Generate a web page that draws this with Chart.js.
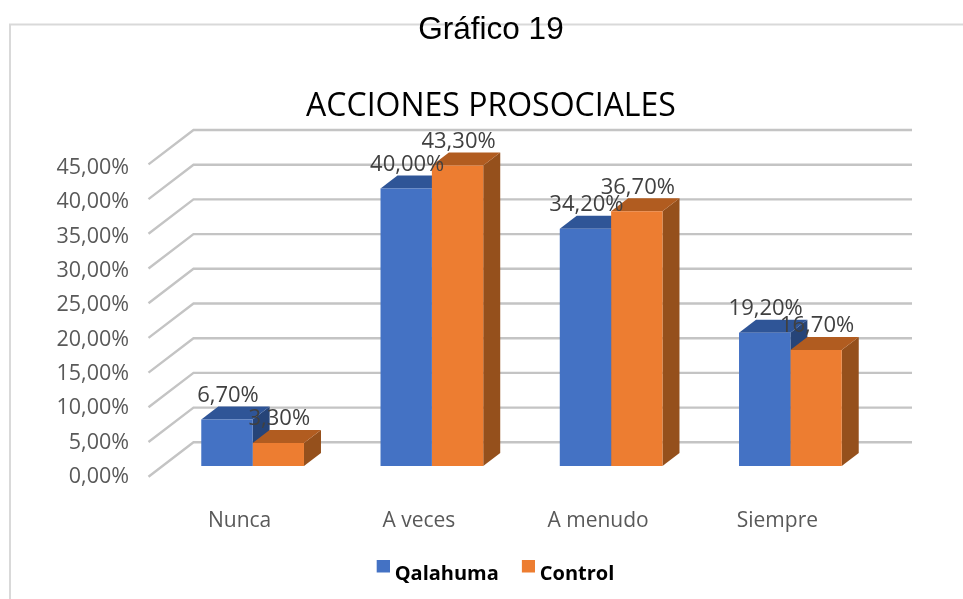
<!DOCTYPE html>
<html><head><meta charset="utf-8">
<style>html,body{margin:0;padding:0;background:#fff}#w{width:963px;height:599px}</style>
<script src="https://cdn.jsdelivr.net/npm/chart.js@4"></script>
</head><body><div id="w"><canvas id="c" width="963" height="599"></canvas></div>
<script>
const categories = ["Nunca","A veces","A menudo","Siempre"];
const qalahuma = [6.7,40.0,34.2,19.2];
const control = [3.3,43.3,36.7,16.7];
const seriesNames = ["Qalahuma","Control"];
const seriesColors = ["#4472c4","#ed7d31"];
const titleText = "Gráfico 19";
const subtitleText = "ACCIONES PROSOCIALES";
const fmt = v => v.toFixed(2).replace(".",",")+"%";

const DX=17, DY=13, WALL_DX=45, WALL_DY=34.4, WALL_RIGHT=912;
const faces=[{top:"#2f5597",side:"#264478"},{top:"#b15c20",side:"#95501c"}];
const FONT='"Open Sans"';

function poly(ctx,pts,fill){ctx.beginPath();pts.forEach((p,i)=>i?ctx.lineTo(p[0],p[1]):ctx.moveTo(p[0],p[1]));ctx.closePath();ctx.fillStyle=fill;ctx.fill();}
function legendMark(color){
 const m=document.createElement("canvas");m.width=27;m.height=29;
 const g=m.getContext("2d");g.fillStyle=color;g.fillRect(14,0,13,13);return m;
}

const threeD={id:"threeD",
 beforeDraw(chart){const c=chart.ctx;c.save();c.strokeStyle="#d9d9d9";c.lineWidth=2;c.beginPath();c.moveTo(10,599);c.lineTo(10,24.5);c.lineTo(963,24.5);c.stroke();c.restore();},
 beforeDatasetsDraw(chart){
  const c=chart.ctx,y=chart.scales.y;
  c.save();
  c.lineWidth=2.4;c.strokeStyle="#c4c4c4";
  const xl=chart.chartArea.left-14.5;
  for(let v=0;v<=45;v+=5){
   const py=y.getPixelForValue(v)+10.7;
   c.beginPath();c.moveTo(xl,py);c.lineTo(xl+WALL_DX,py-WALL_DY);c.lineTo(WALL_RIGHT,py-WALL_DY);c.stroke();
  }
  chart.getDatasetMeta(0).data.forEach((_,i)=>{
   [0,1].forEach(d=>{
    const b=chart.getDatasetMeta(d).data[i].getProps(["x","y","base","width"],true);
    const l=b.x-b.width/2,r=b.x+b.width/2;
    poly(c,[[r,b.y],[r+DX,b.y-DY],[r+DX,b.base-DY],[r,b.base]],faces[d].side);
    poly(c,[[l,b.y],[r,b.y],[r+DX,b.y-DY],[l+DX,b.y-DY]],faces[d].top);
   });
  });
  c.restore();
 },
 afterDatasetsDraw(chart){
  const c=chart.ctx;c.save();c.font='22px '+FONT;c.fillStyle="#404040";c.textAlign="center";c.textBaseline="middle";
  chart.data.datasets.forEach((ds,d)=>{chart.getDatasetMeta(d).data.forEach((b,i)=>{
    c.fillText(fmt(ds.data[i]),b.x+1,b.y-24);
  });});
  c.restore();
 }};

new Chart(document.getElementById("c"),{type:"bar",
 data:{labels:categories,datasets:[
  {label:seriesNames[0],data:qalahuma,backgroundColor:seriesColors[0],yAxisID:"y"},
  {label:seriesNames[1],data:control,backgroundColor:seriesColors[1],yAxisID:"y"}]},
 options:{responsive:false,animation:false,
  layout:{padding:{left:55,right:36,top:11,bottom:5}},
  datasets:{bar:{categoryPercentage:0.573,barPercentage:1}},
  plugins:{
   title:{display:true,text:titleText,color:"#000",font:{family:'"Liberation Sans"',size:31.5,weight:"normal"},padding:{top:0,bottom:39}},
   subtitle:{display:true,text:subtitleText,color:"#000",font:{family:'"Open Sans"',size:32,weight:"normal"},padding:{top:0,bottom:2.8}},
   legend:{position:"bottom",labels:{usePointStyle:true,pointStyleWidth:17,boxHeight:13,padding:14,color:"#000",font:{family:FONT,size:20,weight:"bold"},
     generateLabels(chart){
       const items=Chart.defaults.plugins.legend.labels.generateLabels(chart);
       items.forEach((it,i)=>{it.pointStyle=legendMark(seriesColors[i]);it.fontColor="#000";});
       return items;}}},
   tooltip:{enabled:false}},
  scales:{
   x:{grid:{display:false},border:{display:false},
      ticks:{color:"#595959",font:{family:FONT,size:21},padding:25,labelOffset:-13,maxRotation:0},
      afterFit(a){a.height=75;}},
   y:{position:"right",min:-1.297,max:48.56,grid:{display:false},border:{display:false},ticks:{display:false},
      afterFit(a){a.width=47;}},
   yLabels:{position:"left",min:0,max:50.39,grid:{display:false},border:{display:false},
      ticks:{color:"#595959",font:{family:FONT,size:21.5},padding:26,labelOffset:2,stepSize:5,includeBounds:false,callback:v=>fmt(v)},
      afterBuildTicks(a){a.ticks=a.ticks.filter(t=>t.value<=45);},
      afterFit(a){a.width=108;}}
  }},
 plugins:[threeD]});
</script></body></html>
